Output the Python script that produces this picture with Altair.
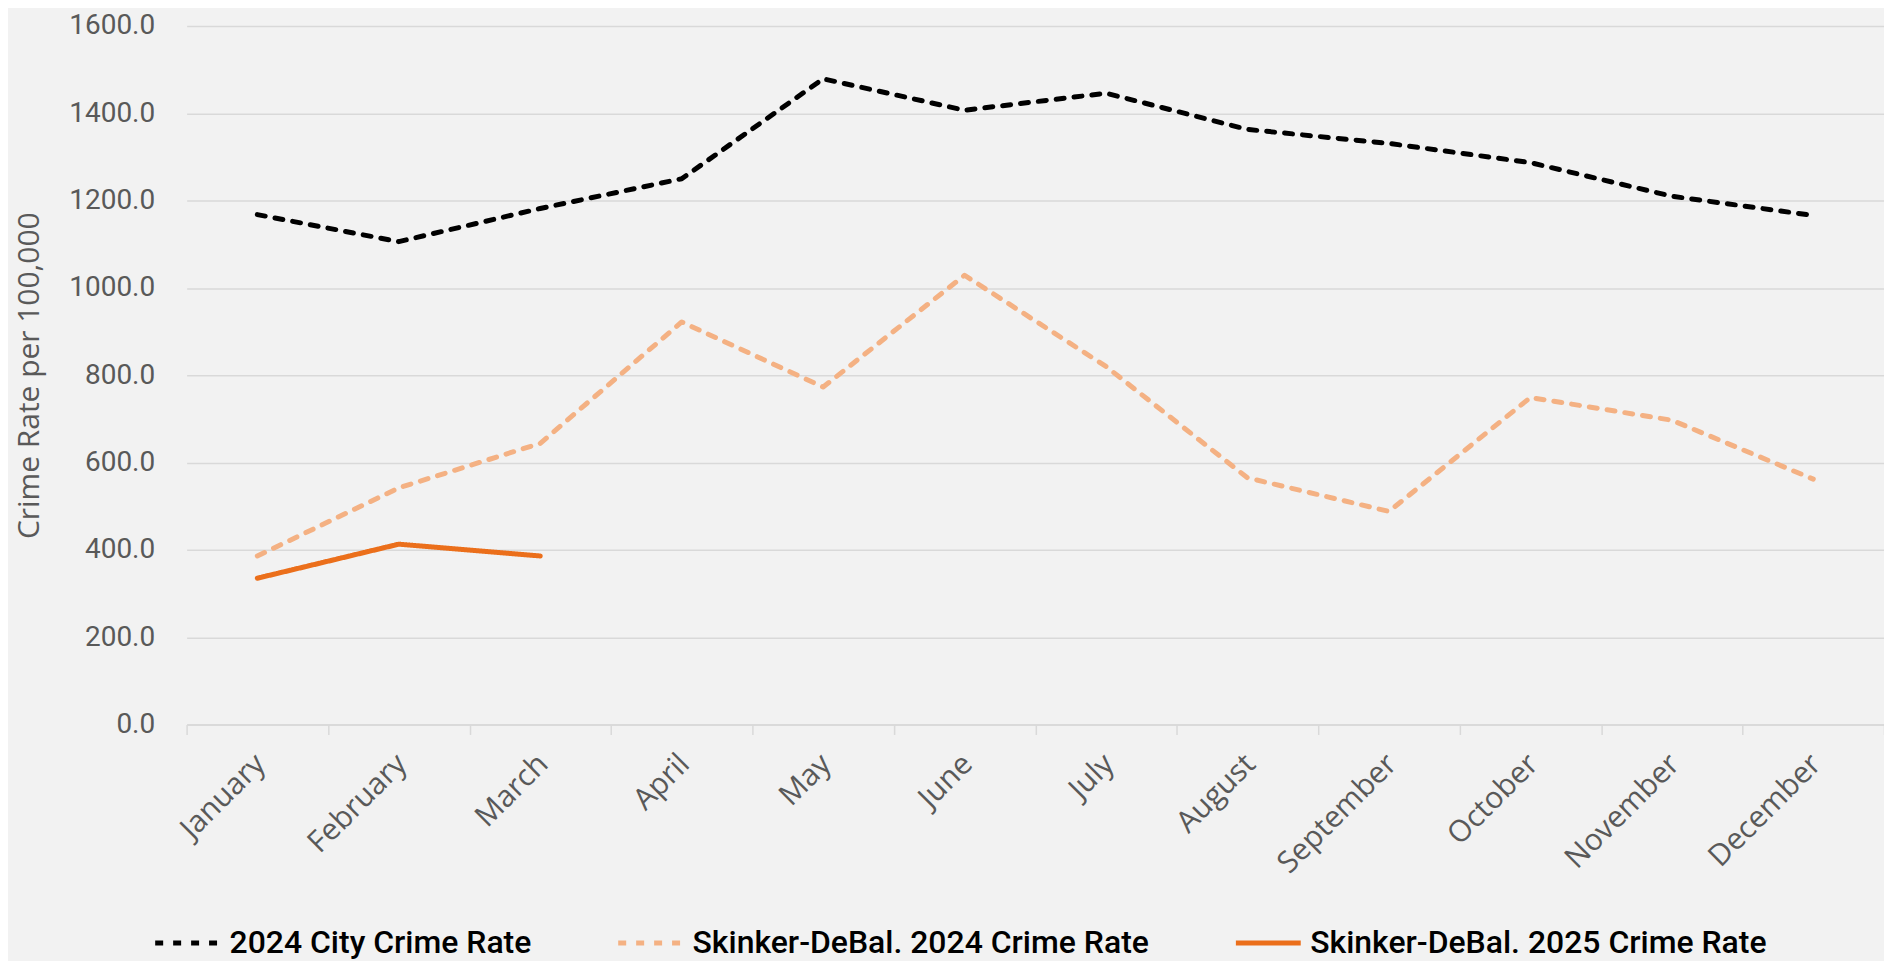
import altair as alt
import pandas as pd

months = ["January", "February", "March", "April", "May", "June", "July",
          "August", "September", "October", "November", "December"]
series_names = ["2024 City Crime Rate", "Skinker-DeBal. 2024 Crime Rate",
                "Skinker-DeBal. 2025 Crime Rate"]
city_2024 = [1168, 1106, 1182, 1250, 1479, 1407, 1446, 1363, 1331, 1287, 1210, 1166]
skinker_2024 = [386, 542, 644, 922, 773, 1029, 820, 565, 488, 749, 697, 562]
skinker_2025 = [335, 413, 386]

rows = []
for m, v in zip(months, city_2024):
    rows.append({"Month": m, "Series": series_names[0], "Rate": v})
for m, v in zip(months, skinker_2024):
    rows.append({"Month": m, "Series": series_names[1], "Rate": v})
for m, v in zip(months, skinker_2025):
    rows.append({"Month": m, "Series": series_names[2], "Rate": v})
df = pd.DataFrame(rows)

colors = ["#000000", "#F4B183", "#EB6F1B"]
dashes = [[8, 10], [8, 10], [1, 0]]

chart = alt.Chart(df).mark_line(
    strokeWidth=5, strokeCap="round", strokeJoin="round", interpolate="linear"
).encode(
    x=alt.X("Month:N", sort=months, title=None,
            scale=alt.Scale(paddingInner=0, paddingOuter=0),
            axis=alt.Axis(labelAngle=-45, labelAlign="right", labelBaseline="top",
                          labelFont="Open Sans", labelFontSize=30, labelColor="#595959",
                          labelPadding=14, labelOffset=-8, tickBand="extent", ticks=True,
                          tickSize=10, tickColor="#D9D9D9", tickWidth=1.5,
                          domainColor="#D9D9D9", domainWidth=1.5, grid=False)),
    y=alt.Y("Rate:Q", title="Crime Rate per 100,000",
            scale=alt.Scale(domain=[0, 1600]),
            axis=alt.Axis(values=[0, 200, 400, 600, 800, 1000, 1200, 1400, 1600],
                          format=".1f", labelFont="Roboto", labelFontSize=28,
                          labelColor="#595959", labelPadding=32, ticks=False, tickSize=0,
                          domain=False, gridColor="#D9D9D9", gridWidth=1.5,
                          titleFont="Open Sans", titleFontSize=30, titleFontWeight="normal",
                          titleColor="#595959", titleAngle=-90, titleX=-148, titleY=350,
                          titleAlign="center", titleBaseline="alphabetic")),
    color=alt.Color("Series:N", sort=series_names,
                    scale=alt.Scale(domain=series_names, range=colors),
                    legend=alt.Legend(title=None, orient="none", direction="horizontal",
                                      legendX=-34, legendY=884, symbolType="stroke",
                                      symbolSize=4225, symbolStrokeWidth=5,
                                      labelFont="Roboto", labelFontSize=32,
                                      labelFontWeight=500, labelColor="#000000",
                                      labelLimit=1000, labelOffset=7, columnPadding=76,
                                      padding=0)),
    strokeDash=alt.StrokeDash("Series:N", sort=series_names,
                              scale=alt.Scale(domain=series_names, range=dashes),
                              legend=None),
).properties(
    width=1701, height=700,
    background="#F2F2F2",
    padding={"left": 179, "top": 17, "right": 0, "bottom": 236},
    autosize=alt.AutoSizeParams(type="none"),
).configure_view(stroke=None)

chart.save("out.html", embed_options={"renderer": "svg", "actions": False})
